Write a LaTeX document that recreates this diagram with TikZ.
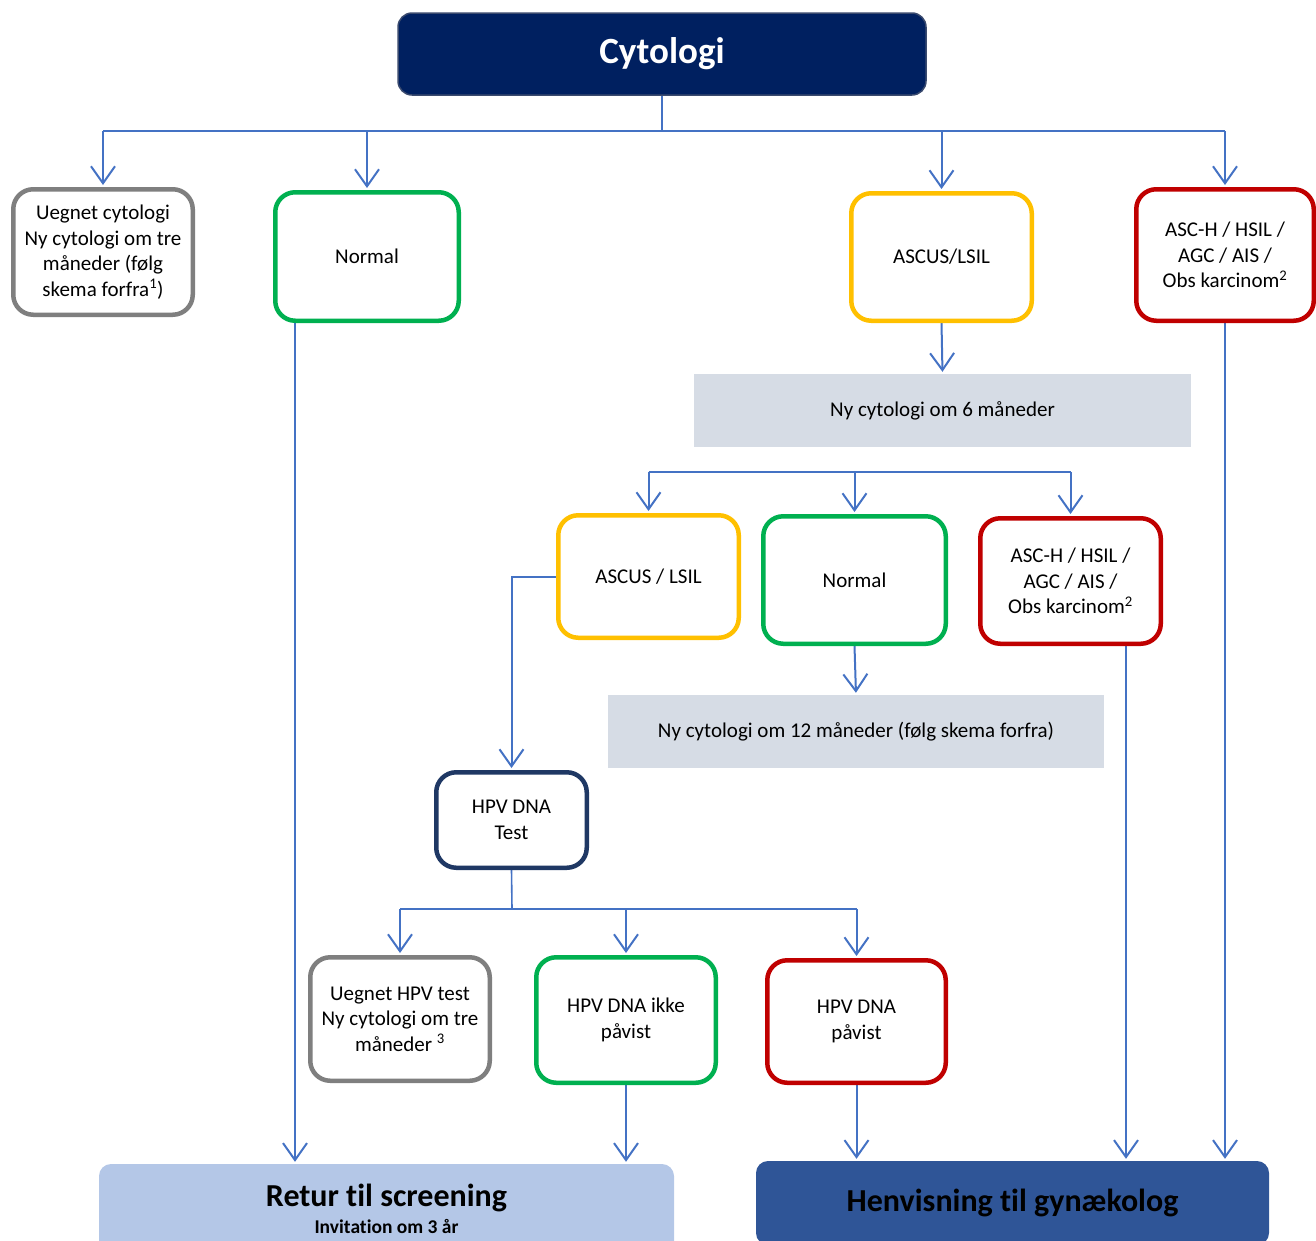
\documentclass[tikz,border=0pt]{standalone}
\usepackage{fontspec}
\setmainfont{Carlito}[RawFeature={-liga}]
\usetikzlibrary{arrows.meta,calc}
\definecolor{conn}{HTML}{4472C4}
\definecolor{cgray}{HTML}{7F7F7F}
\definecolor{cgreen}{HTML}{00B050}
\definecolor{cyellow}{HTML}{FFC000}
\definecolor{cred}{HTML}{C00000}
\definecolor{cnavy}{HTML}{1F3864}
\definecolor{cytfill}{HTML}{002060}
\definecolor{cytdraw}{HTML}{3A4A6E}
\definecolor{notefill}{HTML}{D6DCE5}
\definecolor{returfill}{HTML}{B4C7E7}
\definecolor{henvfill}{HTML}{2F5597}
\pgfdeclarelayer{bg}
\pgfsetlayers{bg,main}
\begin{document}
\begin{tikzpicture}[x=1pt,y=-1pt,
  box/.style={draw, rounded corners=20pt, line width=4.5pt, fill=white, align=center,
    inner sep=0pt, text=black, font=\fontsize{21}{25.5}\selectfont},
  sz/.style 2 args={minimum width={#1-4.5}, minimum height={#2-4.5}},
  note/.style={fill=notefill, inner sep=0pt, align=center, text=black,
    font=\fontsize{21}{25.5}\selectfont},
  arr/.style={conn, line width=2pt, -{Straight Barb[length=17pt,width=24pt]}, shorten >=2pt},
  link/.style={conn, line width=1.6pt}]
\useasboundingbox (0,0) rectangle (1316,1240);

% top
\node[fill=cytfill, draw=cytdraw, line width=1.5pt, rounded corners=14pt,
  minimum width=528, minimum height=82, text=white,
  font=\fontsize{37}{42}\selectfont\bfseries] (cyt) at (662,54) {Cytologi};

% first row
\node[box, draw=cgray, sz={184}{130}] (uegnet) at (103,252)
  {Uegnet cytologi\\Ny cytologi om tre\\måneder (følg\\skema forfra\textsuperscript{1})};
\node[box, draw=cgreen, sz={188}{133}] (normal1) at (367,256.5) {Normal};
\node[box, draw=cyellow, sz={185}{132}] (ascus1) at (941.5,257) {ASCUS/LSIL};
\node[box, draw=cred, sz={182}{136}] (asch1) at (1225,255)
  {ASC-H / HSIL /\\AGC / AIS /\\Obs karcinom\textsuperscript{2}};

\node[note, minimum width=497, minimum height=73] (gray6) at (942.5,410.5)
  {Ny cytologi om 6 måneder};

% second row
\node[box, draw=cyellow, sz={185}{127}] (ascus2) at (648.5,576.5) {ASCUS / LSIL};
\node[box, draw=cgreen, sz={187}{132}] (normal2) at (854.5,580) {Normal};
\node[box, draw=cred, sz={185}{130}] (asch2) at (1070.5,581)
  {ASC-H / HSIL /\\AGC / AIS /\\Obs karcinom\textsuperscript{2}};

\node[note, minimum width=496, minimum height=73] (gray12) at (856,731.5)
  {Ny cytologi om 12 måneder (følg skema forfra)};

\node[box, draw=cnavy, sz={155}{100}] (hpv) at (511.5,820) {HPV DNA\\Test};

% third row
\node[box, draw=cgray, sz={184}{128}] (uegnethpv) at (400,1019)
  {Uegnet HPV test\\Ny cytologi om tre\\måneder \textsuperscript{3}};
\node[box, draw=cgreen, sz={184}{130}] (ikke) at (626,1020) {HPV DNA ikke\\påvist};
\node[box, draw=cred, sz={183}{127}] (pavist) at (856.5,1021.5) {HPV DNA\\påvist};

% bottom
\node[fill=returfill, rounded corners=12pt, minimum width=575, minimum height=89,
  inner sep=0pt, align=center, text=black, font=\fontsize{19.5}{27}\selectfont\bfseries]
  (retur) at (386.5,1208.5)
  {{\fontsize{32}{34}\selectfont Retur til screening}\\
   Invitation om 3 år};
\node[fill=henvfill, rounded corners=12pt, minimum width=513, minimum height=84,
  inner sep=0pt, text=black, font=\fontsize{32}{36}\selectfont\bfseries]
  (henv) at (1012.5,1203) {Henvisning til gynækolog};

% connectors
\begin{pgfonlayer}{bg}
\coordinate (j1) at (662,131);
\draw[link] (cyt.south) -- (j1);
\draw[link] (uegnet.north |- j1) -- (asch1.north |- j1);
\foreach \t in {uegnet,normal1,ascus1,asch1}
  \draw[arr] (\t.north |- j1) -- (\t.north);

\draw[arr] (ascus1.south) -- (gray6.north);

\coordinate (j2) at (854,472);
\draw[link] (ascus2.north |- j2) -- (asch2.north |- j2);
\foreach \t in {ascus2,normal2,asch2}
  \draw[arr] (\t.north |- j2) -- (\t.north);

\draw[arr] (normal2.south) -- (gray12.north);
\draw[arr] (ascus2.west) -| (hpv.north);

\coordinate (j3) at (512,909);
\draw[link] (hpv.south) -- (j3);
\draw[link] (uegnethpv.north |- j3) -- (pavist.north |- j3);
\foreach \t in {uegnethpv,ikke,pavist}
  \draw[arr] (\t.north |- j3) -- (\t.north);

\coordinate (n1s) at ($(normal1.south)+(-72,0)$);
\coordinate (a2s) at ($(asch2.south)+(55.5,0)$);
\draw[arr] (n1s) -- (n1s |- retur.north);
\draw[arr] (ikke.south) -- (ikke.south |- retur.north);
\draw[arr] (pavist.south) -- (pavist.south |- henv.north);
\draw[arr] (a2s) -- (a2s |- henv.north);
\draw[arr] (asch1.south) -- (asch1.south |- henv.north);
\end{pgfonlayer}
\end{tikzpicture}
\end{document}
